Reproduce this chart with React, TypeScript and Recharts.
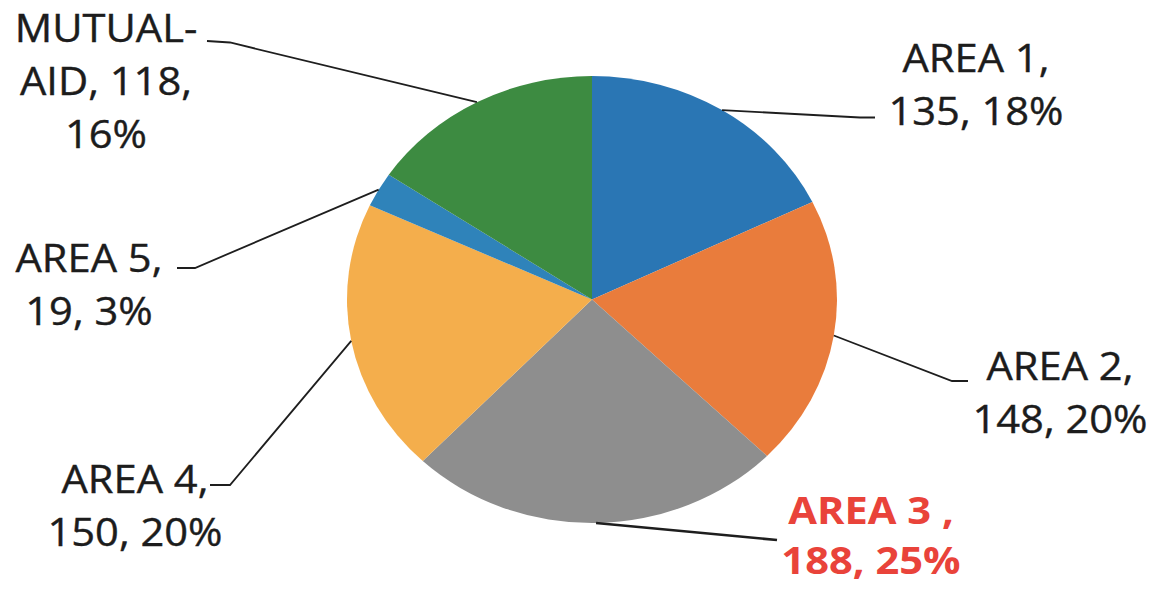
import { Pie, PieChart, Cell } from "recharts";

// slice data
const names = ["AREA 1", "AREA 2", "AREA 3", "AREA 4", "AREA 5", "MUTUAL-AID"];
const counts = [135, 148, 188, 150, 19, 118];
const colors = ["#2a76b4", "#e97c3c", "#8e8e8e", "#f4ae4c", "#2f83ba", "#3d8b41"];

// the source picture is stretched sideways, so the pie is an ellipse
const WIDTH = 1155;
const HEIGHT = 589;
const CX = 592;
const CY = 299.5;
const RADIUS = 223.5;
const SX = 245 / 223.5;
const RAD = Math.PI / 180;
const LINE_H = 53;

// label placement, relative to the pie centre
const labelLayout = [
  { elbow: [268, -182], tail: [283, -182], text: [384, -227.5] },
  { elbow: [360, 81.5], tail: [376, 81.5], text: [468, 80.5] },
  { elbow: [185, 240.5], tail: [185, 240.5], text: [279, 224] },
  { elbow: [-362, 185.5], tail: [-382, 185.5], text: [-457, 193.5] },
  { elbow: [-397, -31.5], tail: [-415, -31.5], text: [-503, -27.5] },
  { elbow: [-362, -257], tail: [-385, -258.5], text: [-486, -257.5] },
];

const data = names.map((name, i) => ({ name, value: counts[i] }));
const total = counts.reduce((a, b) => a + b, 0);

function labelLines(i: number) {
  const pct = Math.round((counts[i] / total) * 100);
  if (names[i].includes("-")) {
    const [a, b] = names[i].split("-");
    return [`${a}-`, `${b}, ${counts[i]},`, `${pct}%`];
  }
  const sep = i === 2 ? " ," : ",";
  return [`${names[i]}${sep}`, `${counts[i]}, ${pct}%`];
}

function EllipseSector(props: any) {
  const { cx, cy, outerRadius, startAngle, endAngle, fill } = props;
  const rx = outerRadius * SX;
  const ry = outerRadius;
  const pt = (a: number) => [cx + rx * Math.cos(a * RAD), cy - ry * Math.sin(a * RAD)];
  const [x1, y1] = pt(startAngle);
  const [x2, y2] = pt(endAngle);
  const large = Math.abs(endAngle - startAngle) > 180 ? 1 : 0;
  const sweep = startAngle > endAngle ? 1 : 0;
  return (
    <path
      d={`M${cx},${cy}L${x1},${y1}A${rx},${ry} 0 ${large} ${sweep} ${x2},${y2}Z`}
      fill={fill}
      stroke="none"
    />
  );
}

function renderLabel(props: any) {
  const { cx, cy, midAngle, outerRadius, index } = props;
  const lay = labelLayout[index];
  const ex = cx + outerRadius * SX * Math.cos(midAngle * RAD);
  const ey = cy - outerRadius * Math.sin(midAngle * RAD);
  const red = index === 2;
  const lines = labelLines(index);
  const lineH = red ? 51 : LINE_H;
  return (
    <g key={`lbl-${index}`}>
      <polyline
        points={`${ex},${ey} ${cx + lay.elbow[0]},${cy + lay.elbow[1]} ${cx + lay.tail[0]},${cy + lay.tail[1]}`}
        fill="none"
        stroke="#1e1e1e"
        strokeWidth={red ? 2.6 : 1.8}
      />
      <text
        transform={`translate(${cx + lay.text[0]},${cy + lay.text[1]}) scale(${SX},1)`}
        textAnchor="middle"
        fontFamily="'Open Sans', sans-serif"
        fontSize={38}
        fontWeight={red ? 700 : 400}
        fill={red ? "#e9433a" : "#1c1c1c"}
        stroke={red ? "none" : "#1c1c1c"}
        strokeWidth={0.4}
      >
        {lines.map((l, k) => (
          <tspan key={k} x={0} y={k * lineH}>
            {l}
          </tspan>
        ))}
      </text>
    </g>
  );
}

export default function App() {
  return (
    <div style={{ width: WIDTH, height: HEIGHT, background: "#fff" }}>
      <style>{"body{margin:0}"}</style>
      <PieChart width={WIDTH} height={HEIGHT} margin={{ top: 0, right: 0, bottom: 0, left: 0 }}>
        <Pie
          data={data}
          dataKey="value"
          nameKey="name"
          cx={CX}
          cy={CY}
          outerRadius={RADIUS}
          startAngle={90}
          endAngle={-270}
          stroke="none"
          label={renderLabel}
          labelLine={false}
          shape={EllipseSector}
          activeShape={EllipseSector}
          inactiveShape={EllipseSector}
          isAnimationActive={false}
        >
          {data.map((d, i) => (
            <Cell key={d.name} fill={colors[i]} />
          ))}
        </Pie>
      </PieChart>
    </div>
  );
}
